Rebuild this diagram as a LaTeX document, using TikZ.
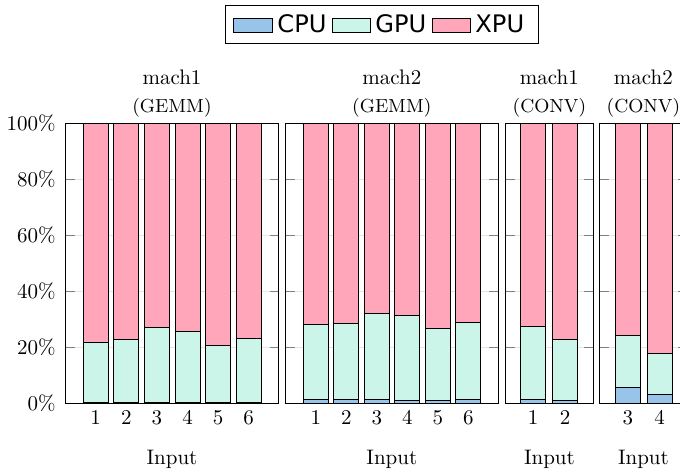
\documentclass[tikz,border=0pt]{standalone}
\usepackage{fontspec}
\newfontfamily\legendfont{DejaVu Sans}

\definecolor{cpublue}{RGB}{153,196,234}
\definecolor{gpumint}{RGB}{204,245,234}
\definecolor{xpupink}{RGB}{255,166,186}

\begin{document}
\begin{tikzpicture}[x=0.4762pt, y=1.3333pt,
    cpubar/.style={draw=black, fill=cpublue},
    gpubar/.style={draw=black, fill=gpumint},
    xpubar/.style={draw=black, fill=xpupink},
    gridline/.style={draw=gray!20, line width=0.3pt},
    tickmark/.style={draw=gray, line width=0.4pt}]

    \clip (0,-24.64) rectangle (680,143.93);

    % grid and ticks of the four panels
    \foreach \l/\r in {65.5/278.5, 285.5/498, 505.5/593.3, 599.5/687.3} {
        \foreach \t in {20,40,60,80} {
            \draw[gridline] (\l,\t) -- (\r,\t);
            \draw[tickmark] (\l,\t) -- ++(9,0);
            \draw[tickmark] (\r,\t) -- ++(-9,0);
        }
    }

    % stacked bars: centre / cpu / cpu+gpu
    \foreach \x/\c/\g in {95.7/0.3/21.5, 126.3/0.3/22.6, 156.9/0.3/27.0,
                          187.5/0.3/25.5, 218.1/0.3/20.4, 248.7/0.3/23.0,
                          315.8/1.3/28.1, 346.3/1.3/28.4, 376.8/1.3/32.0,
                          407.3/1.0/31.2, 437.8/1.0/26.5, 468.3/1.2/28.6,
                          533.2/1.3/27.5, 565.0/0.8/22.6,
                          627.8/5.5/24.0, 659.5/3.1/17.7} {
        \draw[cpubar] (\x-12.5,0) rectangle (\x+12.5,\c);
        \draw[gpubar] (\x-12.5,\c) rectangle (\x+12.5,\g);
        \draw[xpubar] (\x-12.5,\g) rectangle (\x+12.5,100);
    }

    % frames
    \draw (65.5,0) rectangle (278.5,100);
    \draw (285.5,0) rectangle (498,100);
    \draw (505.5,0) rectangle (593.3,100);
    \draw (599.5,0) rectangle (687.3,100);

    % y labels
    \foreach \t in {0,20,...,100}
        \node[anchor=east, inner sep=0pt] (y\t) at (56,\t) {\t\%};

    % x labels
    \foreach \x/\i in {95.7/1, 126.3/2, 156.9/3, 187.5/4, 218.1/5, 248.7/6}
        \node[anchor=base] (xa\i) at (\x,-7.86) {\i};
    \foreach \x/\i in {315.8/1, 346.3/2, 376.8/3, 407.3/4, 437.8/5, 468.3/6}
        \node[anchor=base] (xb\i) at (\x,-7.86) {\i};
    \node[anchor=base] (xc1) at (533.2,-7.86) {1};
    \node[anchor=base] (xc2) at (565.0,-7.86) {2};
    \node[anchor=base] (xd3) at (627.8,-7.86) {3};
    \node[anchor=base] (xd4) at (659.5,-7.86) {4};

    % titles and axis names
    \foreach \x/\m/\k/\n in {172/mach1/GEMM/a, 391.8/mach2/GEMM/b,
                             549.4/mach1/CONV/c, 643.4/mach2/CONV/d} {
        \node[anchor=base] (title\n) at (\x,113.6) {\m};
        \node[anchor=base] (kernel\n) at (\x,103.8) {\small(\k)};
        \node[anchor=base] (input\n) at (\x,-22.14) {Input};
    }

    % legend
    \draw[fill=white] (225,128.57) rectangle (538,142.14);
    \draw[cpubar] (233,132.5) rectangle (272,137.5);
    \draw[gpubar] (332,132.5) rectangle (370,137.5);
    \draw[xpubar] (432,132.5) rectangle (470,137.5);
    \begin{scope}[every node/.style={anchor=base west, inner sep=0pt,
            font=\legendfont\fontsize{11.5}{14}\selectfont}]
        \node (lcpu) at (277,132.4) {CPU};
        \node (lgpu) at (375,132.4) {GPU};
        \node (lxpu) at (475,132.4) {XPU};
    \end{scope}
\end{tikzpicture}
\end{document}
